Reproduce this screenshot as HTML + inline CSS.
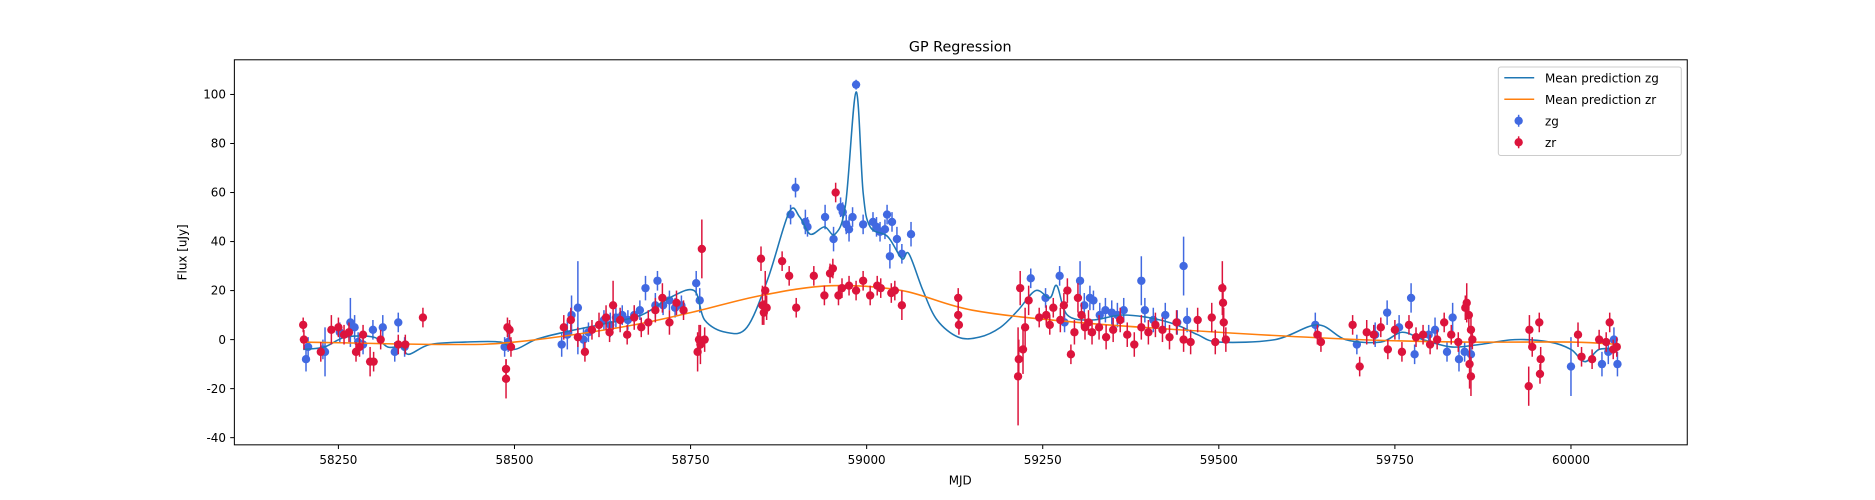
<!DOCTYPE html>
<html><head><meta charset="utf-8"><style>
body{margin:0;background:#fff;}
svg{display:block;font-family:"DejaVu Sans","Liberation Sans",sans-serif;}
</style></head><body>
<svg id="chart" width="1875" height="500" viewBox="0 0 1875 500">
<rect width="1875" height="500" fill="#fff"/>
<g transform="scale(1.19579)">
<text x="803" y="43" text-anchor="middle" font-size="12">GP Regression</text>
<g id="marks"></g>
<rect x="196" y="50" width="1215" height="322" fill="none" stroke="#000" stroke-width="0.85"/>
<g id="xticks"></g>
<g id="yticks"></g>
<text x="803" y="405" text-anchor="middle" font-size="10">MJD</text>
<text x="156" y="211" text-anchor="middle" font-size="10" transform="rotate(-90 156 211)">Flux [uJy]</text>
<g>
<rect x="1253" y="56" width="153" height="74" fill="#fff" fill-opacity="0.8" stroke="#ccc" stroke-width="0.85" rx="2"/>
<g><line x1="1258" y1="65" x2="1283" y2="65" stroke="#1f77b4" stroke-width="1.3"/><text x="1292" y="69" font-size="10">Mean prediction zg</text></g>
<g><line x1="1258" y1="83" x2="1283" y2="83" stroke="#ff7f0e" stroke-width="1.3"/><text x="1292" y="87" font-size="10">Mean prediction zr</text></g>
<g><line x1="1270" y1="96" x2="1270" y2="106" stroke="#4169e1" stroke-width="1.25"/><circle cx="1270" cy="101" r="3.5" fill="#4169e1"/><text x="1292" y="105" font-size="10">zg</text></g>
<g><line x1="1270" y1="114" x2="1270" y2="124" stroke="#dc143c" stroke-width="1.25"/><circle cx="1270" cy="119" r="3.5" fill="#dc143c"/><text x="1292" y="123" font-size="10">zr</text></g>
</g>
</g>
</svg>
<script>
const xTicks=[58250,58500,58750,59000,59250,59500,59750,60000];
const yTicks=[-40,-20,0,20,40,60,80,100];
const zgMjd=[58204,58207,58228,58231,58252,58267,58273,58278,58285,58299,58313,58330,58335,58344,58486,58491,58567,58575,58581,58590,58598,58605,58627,58636,58644,58653,58661,58670,58678,58686,58700,58703,58711,58720,58728,58737,58758,58763,58892,58899,58913,58916,58941,58953,58963,58966,58971,58975,58980,58985,58995,59009,59014,59019,59026,59029,59033,59036,59043,59050,59063,59233,59254,59274,59281,59303,59309,59317,59322,59331,59339,59348,59356,59365,59390,59395,59407,59424,59441,59450,59455,59637,59696,59722,59739,59756,59773,59778,59798,59807,59824,59832,59841,59849,59858,60000,60044,60053,60061,60066];
const zgFlux=[-8,-3,-4,-5,3,7,5,-1,-2,4,5,-5,7,-3,-3,-1,-2,2,10,13,0,3,8,6,9,10,8,10,12,21,14,24,14,16,13,14,23,16,51,62,48,46,50,41,54,52,47,45,50,104,47,48,46,44,45,51,34,48,41,35,43,25,17,26,7,24,14,17,16,10,12,11,10,12,24,12,8,10,7,30,8,6,-2,2,11,5,17,-6,2,4,-5,9,-8,-5,-6,-11,-10,-5,0,-10];
const zgErr=[5,4,4,10,4,10,5,4,4,4,5,4,4,4,4,4,5,6,8,19,5,4,4,5,4,4,4,4,4,5,5,4,4,4,4,4,5,5,4,4,5,4,5,5,4,4,4,5,4,2,4,4,4,4,4,4,5,4,5,4,5,4,4,4,4,8,5,5,4,5,5,5,5,5,10,5,5,5,5,12,5,5,4,5,5,5,6,4,4,5,4,6,5,4,4,12,5,5,5,5];
const zrMjd=[58200,58201,58225,58240,58250,58258,58265,58275,58280,58285,58295,58300,58310,58335,58345,58370,58488,58488,58490,58493,58495,58570,58580,58590,58600,58610,58620,58630,58635,58640,58650,58660,58670,58680,58690,58700,58710,58720,58730,58740,58760,58762,58764,58766,58770,58850,58852,58854,58856,58858,58880,58890,58900,58925,58940,58948,58952,58956,58960,58965,58975,58985,58995,59005,59015,59020,59035,59040,59050,59130,59130,59131,59215,59216,59218,59222,59225,59230,59245,59255,59260,59265,59275,59280,59285,59290,59295,59300,59305,59310,59315,59320,59330,59340,59350,59360,59370,59380,59390,59400,59410,59420,59430,59440,59450,59460,59470,59490,59495,59505,59506,59507,59510,59640,59645,59690,59700,59710,59720,59730,59740,59750,59760,59770,59780,59790,59800,59810,59820,59830,59840,59850,59852,59855,59856,59858,59858,59860,59940,59941,59945,59955,59956,59957,60010,60015,60030,60040,60050,60055,60060,60065];
const zrFlux=[6,0,-5,4,5,2,3,-5,-3,2,-9,-9,0,-2,-2,9,-12,-16,5,4,-3,5,8,1,-5,4,6,9,3,14,8,2,9,5,7,12,17,7,15,12,-5,0,-2,37,0,33,14,11,20,13,32,26,13,26,18,27,29,60,18,21,22,20,24,18,22,21,19,20,14,17,10,6,-15,-8,21,-4,5,16,9,10,6,13,8,14,20,-6,3,17,10,5,7,3,5,1,4,8,2,-2,5,3,6,4,1,7,0,-1,8,9,-1,21,15,7,0,2,-1,6,-11,3,2,5,-4,4,-5,6,1,2,-2,0,7,2,-1,13,15,10,-10,-15,4,0,-19,4,-3,7,-14,-8,2,-7,-8,0,-1,7,-4,-3];
const zrErr=[3,4,4,6,4,4,4,4,4,4,6,4,4,4,4,4,4,8,4,4,4,5,5,4,4,4,5,5,4,10,5,4,5,4,5,5,6,5,5,4,8,6,8,12,5,5,8,5,8,5,4,4,4,4,4,4,4,4,4,4,4,4,4,4,4,4,4,4,6,4,4,4,20,8,7,10,8,6,4,4,4,4,5,5,5,4,5,6,5,5,5,5,5,5,5,5,5,5,5,5,5,5,5,5,5,5,5,6,5,11,8,6,5,4,4,4,4,5,4,4,4,4,4,4,4,4,4,4,4,4,4,5,8,6,10,8,7,4,8,6,4,4,4,5,5,4,4,4,4,4,4,4,4];
const meanZrMjd=[58200,58400,58500,58650,58750,58850,58950,59050,59150,59300,59500,59700,59850,60000,60070];
const meanZrFlux=[-1,-2,-1,5,11,18,22,20,12,7,3,0,-1,-1,-2];
const meanZgMjd=[58200,58230,58260,58300,58320,58340,58350,58380,58430,58480,58500,58530,58570,58620,58680,58720,58755,58770,58800,58830,58860,58890,58905,58920,58940,58955,58970,58985,58995,59005,59030,59050,59060,59080,59100,59130,59160,59190,59215,59240,59260,59270,59285,59320,59360,59400,59440,59470,59500,59580,59640,59680,59730,59760,59790,59830,59870,59920,59970,60000,60020,60040,60066];
const meanZgFlux=[-4,-3,1,1,-3,-3,-6,-2,-1,-1,-4,0,3,6,10,17,20,8,3,5,25,52,50,43,46,43,55,101,60,46,42,33,35,20,8,1,1,5,12,20,17,22,10,8,10,9,6,2,-1,0,6,0,-1,3,0,-3,-2,0,-1,-4,-9,-4,-4];

const NS="http://www.w3.org/2000/svg";
function xs(v){return 283+(v-58250)*0.589;}
function ys(v){return 284-v*2.05;}
function mk(tag,attrs,parent){const e=document.createElementNS(NS,tag);for(const k in attrs)e.setAttribute(k,attrs[k]);parent.appendChild(e);return e;}
const marks=document.getElementById('marks');
const xg=document.getElementById('xticks'),yg=document.getElementById('yticks');
xTicks.forEach(t=>{const g=mk('g',{},xg);


mk('line',{x1:xs(t),x2:xs(t),y1:372,y2:375.5,stroke:'#000','stroke-width':0.85},g);
const tx=mk('text',{x:xs(t),y:388,'text-anchor':'middle','font-size':10},g);tx.textContent=t;});
yTicks.forEach(t=>{const g=mk('g',{},yg);


mk('line',{x1:192.5,x2:196,y1:ys(t),y2:ys(t),stroke:'#000','stroke-width':0.85},g);
const tx=mk('text',{x:189,y:ys(t)+3.5,'text-anchor':'end','font-size':10},g);tx.textContent=t;});
function pathD(X,Y){const p=X.map((m,i)=>[xs(m),ys(Y[i])]);let d='M'+p[0][0]+','+p[0][1];
for(let i=0;i<p.length-1;i++){const p0=p[i-1]||p[i],p1=p[i],p2=p[i+1],p3=p[i+2]||p2;
const c1=[p1[0]+(p2[0]-p0[0])/6,p1[1]+(p2[1]-p0[1])/6],c2=[p2[0]-(p3[0]-p1[0])/6,p2[1]-(p3[1]-p1[1])/6];
d+=' C'+c1[0]+','+c1[1]+' '+c2[0]+','+c2[1]+' '+p2[0]+','+p2[1];}return d;}
function points(X,Y,E,color,name){const g=mk('g',{},marks);


X.forEach((m,i)=>{const cx=xs(m),cy=ys(Y[i]),e=E[i]*2.05;
mk('line',{x1:cx,x2:cx,y1:cy-e,y2:cy+e,stroke:color,'stroke-width':1.25},g);
const c=mk('circle',{cx:cx,cy:cy,r:3.5,fill:color},g);

});}
points(zgMjd,zgFlux,zgErr,'#4169e1','zg');
const l1=mk('path',{d:pathD(meanZgMjd,meanZgFlux),fill:'none',stroke:'#1f77b4','stroke-width':1.3},marks);


const l2=mk('path',{d:pathD(meanZrMjd,meanZrFlux),fill:'none',stroke:'#ff7f0e','stroke-width':1.3},marks);


points(zrMjd,zrFlux,zrErr,'#dc143c','zr');
</script>
</body></html>
